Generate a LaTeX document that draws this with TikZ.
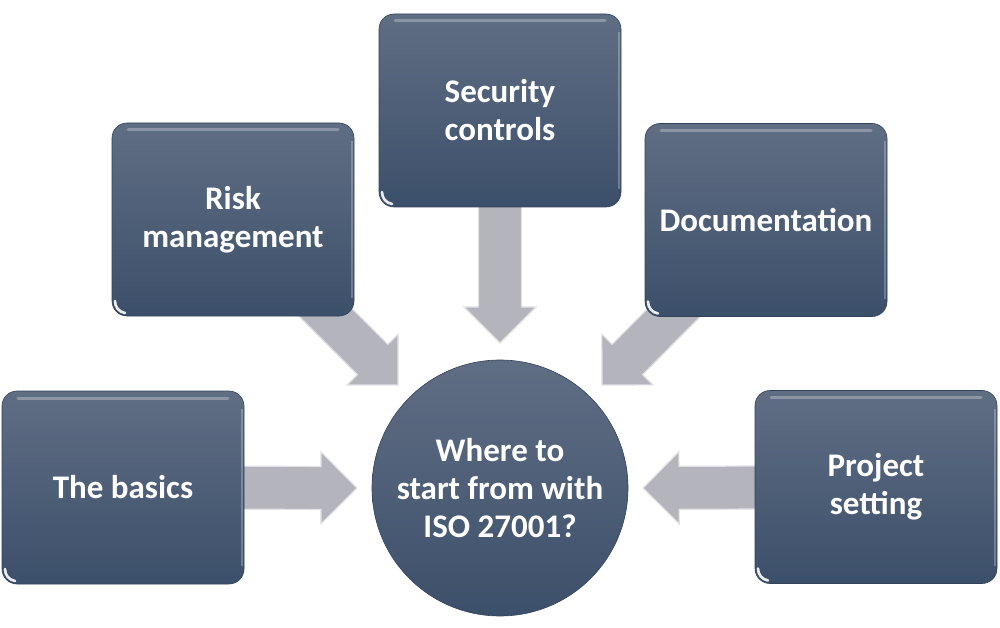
\documentclass[tikz,border=0pt]{standalone}
\usepackage{fontspec}
\setmainfont{Carlito}
\usetikzlibrary{calc}
\pgfdeclarelayer{background}
\pgfsetlayers{background,main}
\definecolor{boxtop}{RGB}{96,110,132}
\definecolor{boxbot}{RGB}{60,79,106}
\definecolor{boxedge}{RGB}{50,66,90}
\definecolor{arrowgray}{RGB}{180,180,188}
\definecolor{arrowedge}{RGB}{225,225,230}
\tikzset{
  card/.style={rectangle, rounded corners=15pt, minimum width=242pt, minimum height=193pt,
    top color=boxtop, bottom color=boxbot, draw=boxedge, line width=0.6pt,
    text=white, align=center, inner sep=0pt,
    font=\bfseries\fontsize{33}{38}\selectfont,
    path picture={
      \draw[white, opacity=.28, line width=3pt, line cap=round]
        ([xshift=16pt,yshift=-7pt]path picture bounding box.north west) --
        ([xshift=-16pt,yshift=-7pt]path picture bounding box.north east);
      \draw[white, opacity=.9, line width=2.6pt, line cap=round]
        ([xshift=3pt,yshift=15pt]path picture bounding box.south west) to[bend right=40]
        ([xshift=13pt,yshift=3pt]path picture bounding box.south west);
      \draw[white, opacity=.25, line width=2pt]
        ([xshift=-2pt,yshift=-18pt]path picture bounding box.north east) --
        ([xshift=-2pt,yshift=18pt]path picture bounding box.south east);
    }},
  hub/.style={circle, minimum size=256pt, inner sep=0pt,
    top color=boxtop, bottom color=boxbot, draw=boxedge, line width=0.6pt,
    text=white, align=center,
    font=\bfseries\fontsize{33}{38}\selectfont},
  blockarrowstyle/.style={fill=arrowgray, draw=arrowedge, line width=1.2pt, line join=miter}
}
% #1 start, #2 tip
\newcommand\blockarrow[2]{%
  \begin{pgfonlayer}{background}
  \coordinate (ah) at ($(#2)!36pt!(#1)$);
  \filldraw[blockarrowstyle]
    ($(#1)!21.5pt!-90:(#2)$) -- ($(ah)!21.5pt!90:(#1)$) -- ($(ah)!36pt!90:(#1)$) --
    (#2) -- ($(ah)!36pt!-90:(#1)$) -- ($(ah)!21.5pt!-90:(#1)$) --
    ($(#1)!21.5pt!90:(#2)$) -- cycle;
  \end{pgfonlayer}}
\begin{document}
\begin{tikzpicture}[x=1pt,y=-1pt]
\begin{pgfonlayer}{background}
\fill[white] (0,0) rectangle (1000,628);
\end{pgfonlayer}
\useasboundingbox (0,0) rectangle (1000,628);
\node[hub] (hub) at (500,488) {Where to\\start from with\\ISO 27001?};
\node[card] (basics) at (123,487.5) {The basics};
\node[card] (risk) at (233,219.5) {Risk\\management};
\node[card] (sec) at (500,110.5) {Security\\controls};
\node[card] (doc) at (766,220) {Documentation};
\node[card] (proj) at (876,487) {Project\\setting};
\coordinate (t1) at (357,488);
\coordinate (t2) at (398,385);
\coordinate (t3) at (500,343);
\coordinate (t4) at (602,385);
\coordinate (t5) at (643,488);
\blockarrow{basics}{t1}
\blockarrow{risk}{t2}
\blockarrow{sec}{t3}
\blockarrow{doc}{t4}
\blockarrow{proj}{t5}
\end{tikzpicture}
\end{document}
